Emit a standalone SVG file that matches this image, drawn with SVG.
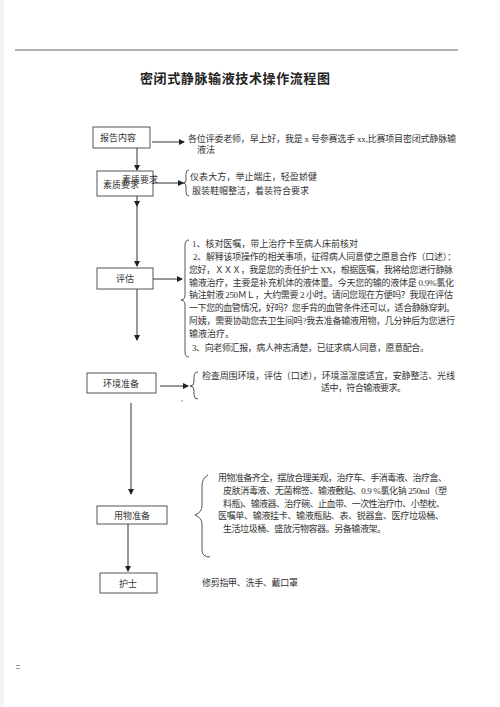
<svg xmlns="http://www.w3.org/2000/svg" width="500" height="707" viewBox="0 0 500 707">
<defs>
<marker id="ah" markerWidth="6" markerHeight="6" refX="5" refY="3" orient="auto" markerUnits="userSpaceOnUse">
<path d="M0,0 L6,3 L0,6 Z" fill="#222"/>
</marker>
<style>
.box{fill:#fff;stroke:#555;stroke-width:1}
.t{font-family:"Liberation Serif","Noto Sans CJK SC",serif;font-size:9px;fill:#333}
.bt{font-family:"Noto Sans CJK SC",sans-serif;font-size:9px;fill:#333}
.ln{stroke:#333;stroke-width:1;fill:none}
.br{stroke:#444;stroke-width:0.9;fill:none}
.title{font-family:"Noto Sans CJK SC",serif;font-size:13px;font-weight:bold;fill:#222}
</style>
</defs>
<rect x="0" y="0" width="500" height="707" fill="#fff"/>
<rect x="0" y="0" width="4" height="707" fill="#f3f3f3"/>
<line x1="15" y1="50" x2="458" y2="50" stroke="#666" stroke-width="1"/>
<text class="title" x="235" y="83" text-anchor="middle" textLength="190">密闭式静脉输液技术操作流程图</text>

<g id="connectors">
<line class="ln" x1="152" y1="142" x2="184" y2="142" marker-end="url(#ah)"/>
<line class="ln" x1="137" y1="148" x2="137" y2="170" marker-end="url(#ah)"/>
<line class="ln" x1="153" y1="183" x2="183" y2="183" marker-end="url(#ah)"/>
<line class="ln" x1="137" y1="196" x2="137" y2="206" marker-end="url(#ah)"/>
<line class="ln" x1="137" y1="206" x2="137" y2="266" marker-end="url(#ah)"/>
<line class="ln" x1="153" y1="279" x2="182" y2="279" marker-end="url(#ah)"/>
<line class="ln" x1="137" y1="289" x2="137" y2="340" marker-end="url(#ah)"/>
<line class="ln" x1="160" y1="386" x2="188" y2="386" marker-end="url(#ah)"/>
<line class="ln" x1="131" y1="403" x2="131" y2="494" marker-end="url(#ah)"/>
<line class="ln" x1="128" y1="524" x2="128" y2="571" marker-end="url(#ah)"/>
<path class="br" d="M189,170 Q186,170 186,174 L186,180 Q186,183 183,183 Q186,183 186,186 L186,192 Q186,196 189,196"/>
<path class="br" d="M189,240 Q185,240 185,245 L185,295 Q185,300 181,300 Q185,300 185,305 L185,352 Q185,357 189,357"/>
<path class="br" d="M198,372 Q194,372 194,377 L194,382 Q194,386 190,386 Q194,386 194,390 L194,395 Q194,399 198,399"/>
<path class="br" d="M208,475 Q202,478 202,486 L202,506 Q202,512 195,515 Q202,518 202,524 L202,550 Q202,557 210,557"/>
<circle cx="182" cy="401" r="0.7" fill="#666"/>
</g>

<g id="n1">
<rect class="box" x="93" y="127" width="57" height="21"/>
<text class="bt" x="100" y="141">报告内容</text>
<text class="t" x="188" y="142" textLength="268">各位评委老师，早上好，我是 x 号参赛选手 xx,比赛项目密闭式静脉输</text>
<text class="t" x="197" y="153">液法</text>
</g>

<g id="n2">
<rect class="box" x="97" y="171" width="56" height="25"/>
<text class="bt" x="103" y="188">素质要求</text>
<text class="bt" x="122" y="183">素质要求</text>
<text class="t" x="190" y="180" textLength="127">仪表大方，举止端庄，轻盈娇健</text>
<text class="t" x="192" y="194" textLength="117">服装鞋帽整洁，着装符合要求</text>
</g>

<g id="n3">
<rect class="box" x="97" y="268" width="56" height="21"/>
<text class="bt" x="125" y="282" text-anchor="middle">评估</text>
<text class="t" x="192" y="247" textLength="166">1、核对医嘱，带上治疗卡至病人床前核对</text>
<text class="t" x="193" y="260" textLength="263">2、解释该项操作的相关事项，征得病人同意使之愿意合作（口述）：</text>
<text class="t" x="189" y="273" textLength="264">您好，ＸＸＸ，我是您的责任护士 XX，根据医嘱，我将给您进行静脉</text>
<text class="t" x="189" y="286" textLength="265">输液治疗，主要是补充机体的液体量。今天您的输的液体是 0.9%氯化</text>
<text class="t" x="189" y="298" textLength="264">钠注射液 250ＭＬ，大约需要 2 小时。请问您现在方便吗？我现在评估</text>
<text class="t" x="189" y="311" textLength="266">一下您的血管情况，好吗？您手背的血管条件还可以，适合静脉穿刺。</text>
<text class="t" x="189" y="324" textLength="266">阿姨，需要协助您去卫生间吗?我去准备输液用物，几分钟后为您进行</text>
<text class="t" x="189" y="337">输液治疗。</text>
<text class="t" x="192" y="351" textLength="237">3、向老师汇报，病人神志清楚，已征求病人同意，愿意配合。</text>
</g>

<g id="n4">
<rect class="box" x="87" y="373" width="69" height="20"/>
<text class="bt" x="121" y="387" text-anchor="middle">环境准备</text>
<text class="t" x="202" y="379" textLength="253">检查周围环境，评估（口述），环境温湿度适宜，安静整洁、光线</text>
<text class="t" x="321" y="391" textLength="85">适中，符合输液要求。</text>
</g>

<g id="n5">
<rect class="box" x="97" y="506" width="70" height="18"/>
<text class="bt" x="132" y="519" text-anchor="middle">用物准备</text>
<text class="t" x="218" y="481" textLength="229">用物准备齐全，摆放合理美观，治疗车、手消毒液、治疗盒、</text>
<text class="t" x="223" y="494" textLength="224">皮肤消毒液、无菌棉签、输液敷贴、0.9 %氯化钠 250ml（塑</text>
<text class="t" x="223" y="507" textLength="222">料瓶)、输液器、治疗碗、止血带、一次性治疗巾、小垫枕、</text>
<text class="t" x="218" y="519" textLength="226">医嘱单、输液挂卡、输液瓶贴、表、锐器盒、医疗垃圾桶、</text>
<text class="t" x="223" y="532" textLength="163">生活垃圾桶、盛放污物容器。另备输液架。</text>
</g>

<g id="n6">
<rect class="box" x="100" y="573" width="57" height="20"/>
<text class="bt" x="128" y="587" text-anchor="middle">护士</text>
<text class="t" x="202" y="586" textLength="96">修剪指甲、洗手、戴口罩</text>
</g>

<rect x="16" y="665" width="4" height="1" fill="#999"/>
<rect x="16" y="668" width="4" height="1" fill="#999"/>
</svg>
